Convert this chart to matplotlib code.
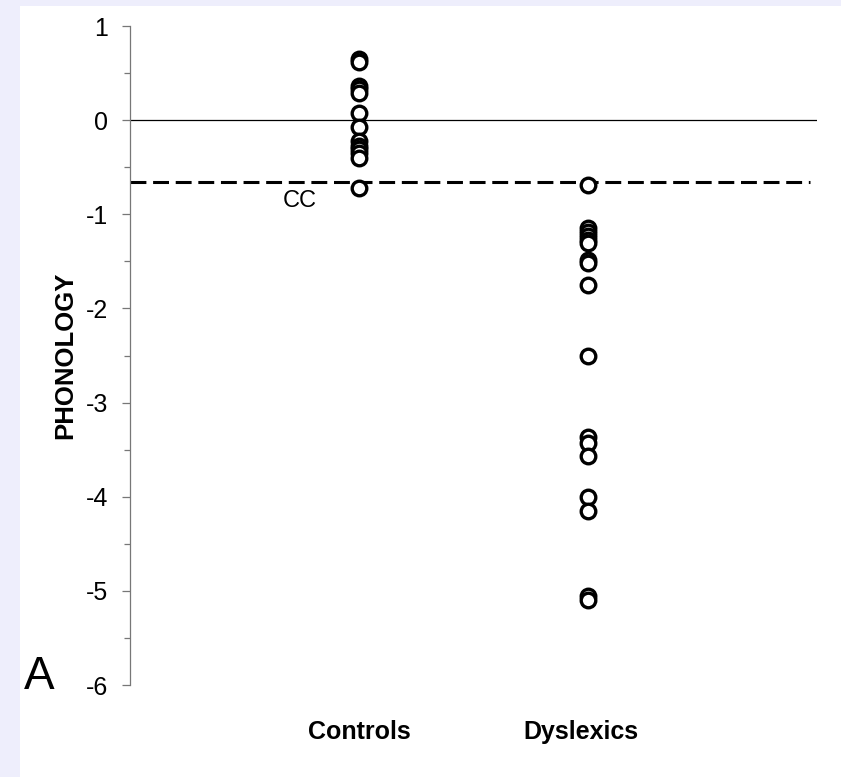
import matplotlib.pyplot as plt
from matplotlib.patches import Rectangle

plt.rcParams['font.family'] = ['Liberation Sans', 'DejaVu Sans']

groups = ["Controls", "Dyslexics"]
controls = [0.65, 0.62, 0.36, 0.33, 0.29, 0.08, -0.07, -0.22, -0.27,
            -0.31, -0.35, -0.40, -0.72]
dyslexics = [-0.69, -1.15, -1.19, -1.23, -1.27, -1.31, -1.49, -1.52,
             -1.75, -2.51, -3.37, -3.43, -3.57, -4.00, -4.15, -5.05, -5.10]
cutoff = -0.66
y_ticks = [1, 0, -1, -2, -3, -4, -5, -6]

fig = plt.figure(figsize=(8.41, 7.77), dpi=100, facecolor="#eeeefc")
# white panel inside the lavender frame
fig.patches.append(Rectangle((20 / 841, 0), 1, 1 - 6 / 777,
                             transform=fig.transFigure, facecolor="white",
                             edgecolor="none", zorder=-10))

ax = fig.add_axes([130 / 841, 1 - 685 / 777, 687 / 841, 659 / 777])
ax.set_facecolor("none")

for i, vals in enumerate([controls, dyslexics], start=1):
    ax.plot([i] * len(vals), vals, linestyle="none", marker="o",
            markersize=10.5, markerfacecolor="white", markeredgecolor="black",
            markeredgewidth=2.4, zorder=3, clip_on=False)

ax.axhline(0, color="black", lw=0.9, zorder=1)
ax.plot([0, 2.97], [cutoff, cutoff], color="black", lw=2.2,
        dashes=(5.2, 2.2), zorder=2)
ax.text(0.74, -0.86, "CC", fontsize=17, ha="center", va="center")

ax.set_xlim(0, 3)
ax.set_ylim(-6, 1)
ax.set_yticks(y_ticks)
ax.set_yticklabels([str(v) for v in y_ticks])
ax.set_yticks([v + 0.5 for v in y_ticks[1:]], minor=True)
ax.set_xticks([])

for side in ["top", "right", "bottom"]:
    ax.spines[side].set_visible(False)
ax.spines["left"].set_color("#777777")
ax.spines["left"].set_linewidth(0.9)
ax.tick_params(axis="y", which="major", length=6, width=0.9, color="#777777",
               labelsize=18, pad=10)
ax.tick_params(axis="y", which="minor", length=4, width=0.9, color="#777777")

ax.set_ylabel("PHONOLOGY", fontsize=18.5, fontweight="bold", labelpad=6)

for i, name in enumerate(groups, start=1):
    fig.text((130 + 229 * i - (7 if i == 2 else 0)) / 841, 1 - 732 / 777,
             name, fontsize=18, fontweight="bold", ha="center", va="center")

fig.text(39 / 841, 1 - 677 / 777, "A", fontsize=33, ha="center", va="center")

fig.savefig("out.png", dpi=100, facecolor=fig.get_facecolor())
